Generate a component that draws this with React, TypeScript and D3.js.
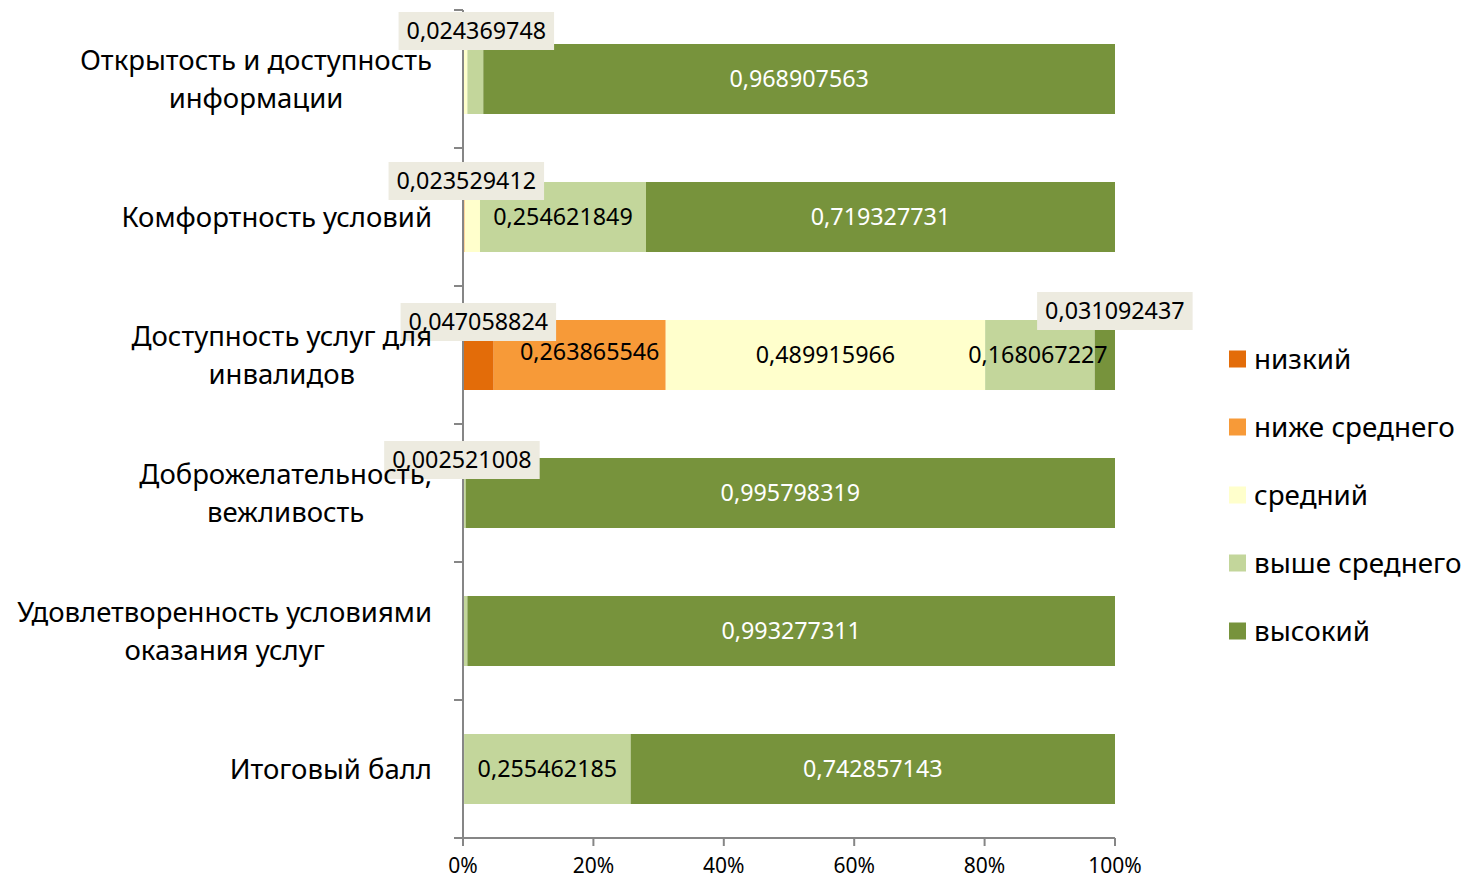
import React, { useEffect, useRef } from "react";
import * as d3 from "d3";

const categories = [
  "Открытость и доступность информации",
  "Комфортность условий",
  "Доступность услуг для инвалидов",
  "Доброжелательность, вежливость",
  "Удовлетворенность условиями оказания услуг",
  "Итоговый балл",
];
const categoryLines = [
  ["Открытость и доступность", "информации"],
  ["Комфортность условий"],
  ["Доступность услуг для", "инвалидов"],
  ["Доброжелательность,", "вежливость"],
  ["Удовлетворенность условиями", "оказания услуг"],
  ["Итоговый балл"],
];
const seriesNames = ["низкий", "ниже среднего", "средний", "выше среднего", "высокий"];
const low = [0, 0, 0.047058824, 0, 0, 0];
const belowAvg = [0, 0.002521008, 0.263865546, 0, 0, 0];
const avg = [0.006722689, 0.023529412, 0.489915966, 0.001680672, 0, 0.001680672];
const aboveAvg = [0.024369748, 0.254621849, 0.168067227, 0.002521008, 0.006722689, 0.255462185];
const high = [0.968907563, 0.719327731, 0.031092437, 0.995798319, 0.993277311, 0.742857143];
const xTicks = [0, 0.2, 0.4, 0.6, 0.8, 1];

const shownInside: [number, number][] = [
  [0, 4], [1, 3], [1, 4], [2, 1], [2, 2], [2, 3], [3, 4], [4, 4], [5, 3], [5, 4],
];
const callouts: { c: number; s: number; dx: number; dy: number }[] = [
  { c: 0, s: 3, dx: 1, dy: -48 },
  { c: 1, s: 2, dx: -6, dy: -36 },
  { c: 2, s: 0, dx: 0, dy: -33 },
  { c: 2, s: 4, dx: 10, dy: -44 },
  { c: 3, s: 3, dx: -3, dy: -33 },
];
const insideDx: Record<string, number> = { "2-1": 10, "2-2": 0, "2-3": -2 };
const insideDy: Record<string, number> = { "2-1": -3 };

const colors = ["#E36C09", "#F79A38", "#FFFFCC", "#C3D69B", "#77933C"];
const FONT = "'Noto Sans', sans-serif";

export default function App() {
  const ref = useRef<SVGSVGElement>(null);
  useEffect(() => {
    const svg = d3.select(ref.current!);
    svg.selectAll("*").remove();
    const seriesData = [low, belowAvg, avg, aboveAvg, high];
    const rows = categories.map((c, i) => {
      const o: any = { cat: c };
      seriesNames.forEach((s, j) => (o[s] = seriesData[j][i]));
      return o;
    });
    const stack = d3.stack<any>().keys(seriesNames)(rows);

    const x = d3.scaleLinear().domain([0, 1]).range([463, 1115]);
    const p = 0.4928;
    const y = d3.scaleBand<string>().domain(categories).range([10, 838]).paddingInner(p).paddingOuter(p / 2);
    const bw = y.bandwidth();

    stack.forEach((layer, si) => {
      svg
        .append("g")
        .selectAll("rect")
        .data(layer)
        .join("rect")
        .attr("x", (d) => x(d[0]))
        .attr("y", (d, i) => y(categories[i])!)
        .attr("width", (d) => Math.max(0, x(d[1]) - x(d[0])))
        .attr("height", bw)
        .attr("fill", colors[si]);
    });

    const axisColor = "#868686";
    const g = svg.append("g").attr("stroke", axisColor).attr("stroke-width", 2);
    g.append("line").attr("x1", 463).attr("x2", 463).attr("y1", 10).attr("y2", 838);
    g.append("line").attr("x1", 454).attr("x2", 1115).attr("y1", 838).attr("y2", 838);
    const bounds = categories.map((c) => y(c)! - (y.step() - bw) / 2);
    bounds.forEach((b) => {
      g.append("line").attr("x1", 454).attr("x2", 463).attr("y1", b).attr("y2", b);
    });
    xTicks.forEach((t) => {
      g.append("line").attr("x1", x(t)).attr("x2", x(t)).attr("y1", 838).attr("y2", 846);
    });
    svg
      .append("g")
      .selectAll("text")
      .data(xTicks)
      .join("text")
      .attr("x", (d) => x(d))
      .attr("y", 873)
      .attr("text-anchor", "middle")
      .attr("font-family", FONT)
      .attr("font-size", 21)
      .attr("fill", "#000")
      .text((d) => `${Math.round(d * 100)}%`);

    const fmt = (v: number) => String(v).replace(".", ",");
    const labelFont = 23.3;
    shownInside.forEach(([c, s]) => {
      const d = stack[s][c];
      const cx = (x(d[0]) + x(d[1])) / 2 + (insideDx[`${c}-${s}`] || 0);
      const cy = y(categories[c])! + bw / 2 + (insideDy[`${c}-${s}`] || 0);
      svg
        .append("text")
        .attr("x", cx)
        .attr("y", cy + labelFont * 0.36)
        .attr("text-anchor", "middle")
        .attr("font-family", FONT)
        .attr("font-size", labelFont)
        .attr("fill", s === 4 ? "#fff" : "#000")
        .text(fmt(seriesData[s][c]));
    });
    callouts.forEach(({ c, s, dx, dy }) => {
      const d = stack[s][c];
      const cx = (x(d[0]) + x(d[1])) / 2 + dx;
      const cy = y(categories[c])! + bw / 2 + dy;
      const gg = svg.append("g");
      const rect = gg.append("rect").attr("fill", "#EDEBE0");
      const t = gg
        .append("text")
        .attr("x", cx)
        .attr("y", cy + labelFont * 0.36)
        .attr("text-anchor", "middle")
        .attr("font-family", FONT)
        .attr("font-size", labelFont)
        .attr("fill", "#000")
        .text(fmt(seriesData[s][c]));
      const w = (t.node() as SVGTextElement).getComputedTextLength();
      rect.attr("x", cx - w / 2 - 8).attr("y", cy - 19).attr("width", w + 16).attr("height", 38);
    });

    const catFont = 27.5;
    categoryLines.forEach((lines, i) => {
      const cy = y(categories[i])! + bw / 2;
      const gg = svg.append("g");
      const texts = lines.map((l, k) =>
        gg
          .append("text")
          .attr("font-family", FONT)
          .attr("font-size", catFont)
          .attr("text-anchor", "middle")
          .attr("y", cy + (k - (lines.length - 1) / 2) * 38 + catFont * 0.36)
          .attr("fill", "#000")
          .text(l)
      );
      const w = Math.max(...texts.map((t) => (t.node() as SVGTextElement).getComputedTextLength()));
      texts.forEach((t) => t.attr("x", 432 - w / 2));
    });

    const lg = svg.append("g");
    seriesNames.forEach((s, i) => {
      const ly = 359 + i * 68;
      lg.append("rect").attr("x", 1229).attr("y", ly - 8.5).attr("width", 17).attr("height", 17).attr("fill", colors[i]);
      lg.append("text")
        .attr("x", 1254)
        .attr("y", ly + 27.8 * 0.36)
        .attr("font-family", FONT)
        .attr("font-size", 27.8)
        .attr("fill", "#000")
        .text(s);
    });
  }, []);
  return (
    <svg
      ref={ref}
      width={1464}
      height={879}
      style={{ position: "absolute", left: 0, top: 0, background: "#fff" }}
    />
  );
}
